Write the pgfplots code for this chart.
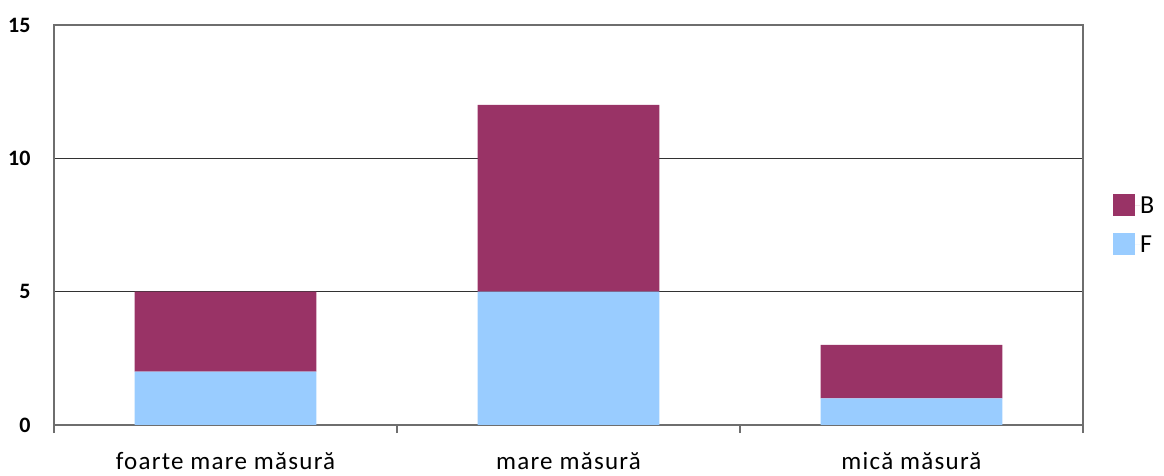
\documentclass[border=0pt]{standalone}
\usepackage{pgfplots}
\pgfplotsset{compat=1.18}
\usepackage{fontspec}
\setmainfont{Carlito}
\newfontfamily\catfont{Carlito}[LetterSpace=5]
\definecolor{cB}{HTML}{993366}
\definecolor{cF}{HTML}{99CCFF}
\definecolor{axgray}{RGB}{110,110,110}
\definecolor{gridc}{RGB}{50,50,50}
\begin{document}
\begin{tikzpicture}
\begin{axis}[
  scale only axis,
  width=1029pt, height=400pt,
  at={(0pt,0pt)}, anchor=south west,
  ybar stacked,
  bar width=0.53,
  xmin=-0.5, xmax=2.5,
  ymin=0, ymax=15,
  ytick={0,5,10,15},
  xtick={0,1,2},
  xticklabels={foarte mare măsură, mare măsură, mică măsură},
  minor xtick={-0.5,0.5,1.5,2.5},
  xtick pos=lower,
  tick align=outside,
  major x tick style={draw=none},
  minor tick length=8pt,
  minor x tick style={draw=axgray, line width=1.6pt},
  x tick label style={font=\catfont\fontsize{25}{30}\selectfont, anchor=base, inner sep=0pt, yshift=-40pt},
  y tick label style={font=\fontsize{22}{26}\selectfont\bfseries, anchor=east, inner sep=0pt, xshift=-19pt},
  /pgf/number format/assume math mode=true,
  ytick style={draw=none},
  ymajorgrids,
  grid style={draw=gridc, line width=1.3pt},
  axis line style={draw=axgray, line width=2pt},
  legend style={draw=none, fill=none, at={(1,0.5)}, anchor=west, xshift=30pt, inner sep=0pt,
    font=\fontsize{26}{30}\selectfont, row sep=17pt,
    nodes={inner sep=0pt, anchor=west}},
  legend cell align=left,
  reverse legend,
  legend image code/.code={\fill[#1] (0pt,-11pt) rectangle (22pt,11pt); \path (22pt,0pt) -- (27pt,0pt);},
]
\addplot[fill=cF, draw=none] coordinates {(0,2) (1,5) (2,1)};
\addlegendentry{F}
\addplot[fill=cB, draw=none] coordinates {(0,3) (1,7) (2,2)};
\addlegendentry{B}
\end{axis}
\useasboundingbox (-54pt,-51pt) rectangle (1110pt,425pt);
\end{tikzpicture}
\end{document}
